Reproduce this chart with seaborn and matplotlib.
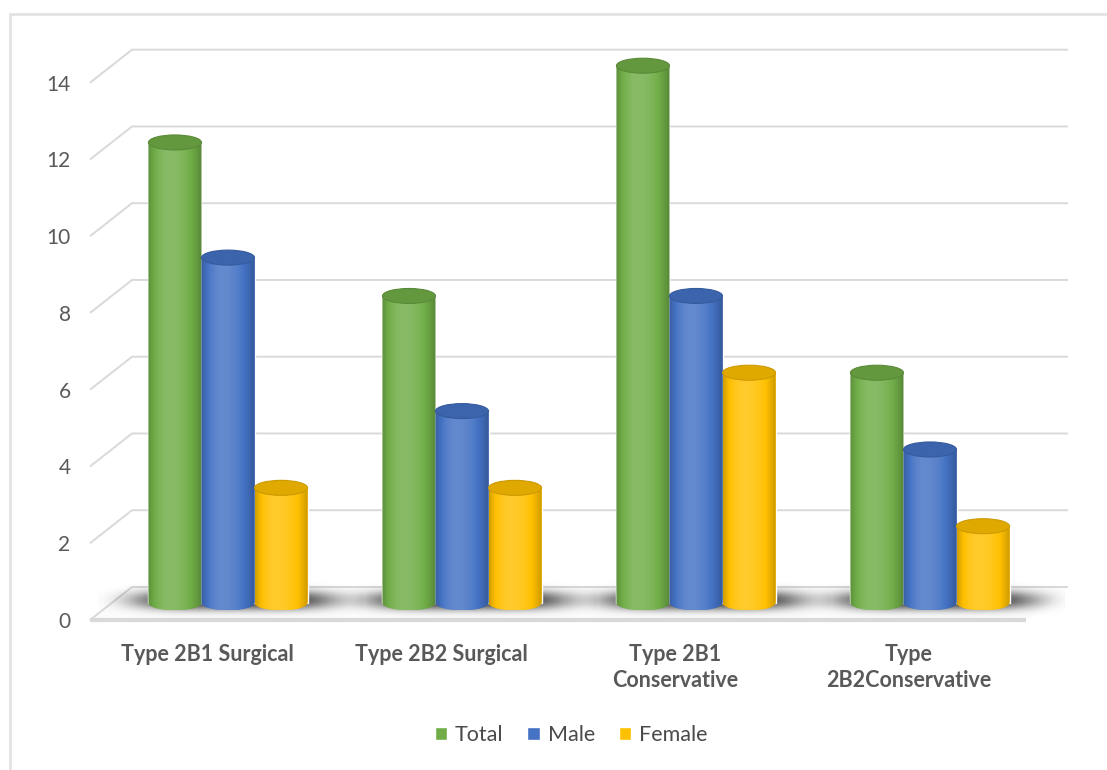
import numpy as np
import pandas as pd
import matplotlib
matplotlib.use("Agg")
import matplotlib.pyplot as plt
import seaborn as sns
from matplotlib.patches import Ellipse, PathPatch, Polygon, Rectangle
from matplotlib.path import Path
from matplotlib.lines import Line2D
from matplotlib.transforms import ScaledTranslation

# ---- data -------------------------------------------------------------
categories = ["Type 2B1 Surgical", "Type 2B2 Surgical",
              "Type 2B1\nConservative", "Type\n2B2Conservative"]
series = ["Total", "Male", "Female"]
total = [12, 8, 14, 6]
male = [9, 5, 8, 4]
female = [3, 3, 6, 2]
colors = ["#70ad47", "#4472c4", "#ffc000"]
yticks = [0, 2, 4, 6, 8, 10, 12, 14]

rows = []
for name, vals in zip(series, [total, male, female]):
    for cat, v in zip(categories, vals):
        rows.append({"category": cat, "series": name, "value": v})
df = pd.DataFrame(rows)

# ---- style ------------------------------------------------------------
sns.set_theme(style="white")
plt.rcParams["font.family"] = ["Lato", "DejaVu Sans"]
TEXT = "#595959"
GRID = "#d9d9d9"

W, H = 1107, 770
fig = plt.figure(figsize=(W / 100, H / 100), dpi=100)
fig.patch.set_facecolor("white")

# axes placement in pixels (left/right, bottom/top measured from the top)
AX_L, AX_R, AX_B, AX_T = 111, 1047, 626, 35
YLIM = (-0.6, 14.8)
ax = fig.add_axes([AX_L / W, 1 - AX_B / H, (AX_R - AX_L) / W, (AX_B - AX_T) / H])

sns.barplot(data=df, x="category", y="value", hue="series",
            order=categories, hue_order=series, palette=colors,
            width=0.68, saturation=1, errorbar=None, ax=ax, zorder=3)
bars = [p for p in ax.patches if isinstance(p, Rectangle) and p.get_height() > 0]

XLIM = (-0.5, len(categories) - 0.5)
px_x = (AX_R - AX_L) / (XLIM[1] - XLIM[0])
px_y = (AX_B - AX_T) / (YLIM[1] - YLIM[0])

# depth of the pseudo-3D box (pixels)
DX, DYB, DYF = 21, 16, 17
ddx, dyb, dyf = DX / px_x, DYB / px_y, DYF / px_y

# ---- walls and floor --------------------------------------------------
floor = Polygon([(XLIM[0] - ddx, -dyf), (XLIM[1] - ddx, -dyf),
                 (XLIM[1] + ddx, dyb), (XLIM[0] + ddx, dyb)],
                closed=True, facecolor="#fcfcfc", edgecolor="none",
                zorder=0.5, clip_on=False)
ax.add_patch(floor)
for v in yticks:
    ax.plot([XLIM[0] - ddx, XLIM[0] + ddx, XLIM[1] + ddx],
            [v - dyf, v + dyb, v + dyb],
            color=GRID, lw=1.4, clip_on=False, zorder=1,
            solid_capstyle="butt")
ax.plot([XLIM[0] - ddx, XLIM[1] - ddx], [-dyf, -dyf], color=GRID, lw=3,
        clip_on=False, zorder=1, solid_capstyle="butt")


def shade(rgb, t):
    u = t - 0.4
    k = np.where(u < 0, 0.17 - 2.2 * u ** 2, 0.17 - 1.1 * u ** 2)
    rgb = np.asarray(rgb)[None, :]
    k = k[:, None]
    out = np.where(k > 0, rgb + (1 - rgb) * k, rgb * (1 + k))
    return np.clip(out, 0, 1)


# ---- soft floor shadows under each group ---------------------------------
n_cat = len(categories)
for i in range(n_cat):
    grp = [p for p in bars if abs(p.get_x() + p.get_width() / 2 - i) < 0.5]
    gx0 = min(p.get_x() for p in grp)
    gx1 = max(p.get_x() + p.get_width() for p in grp)
    L, R = gx0 - 50 / px_x, gx1 + 55 / px_x
    ylo, yhi = -22 / px_y, 26 / px_y
    xs = np.linspace(L, R, 400)
    ys = np.linspace(ylo, yhi, 120)
    X, Y = np.meshgrid(xs * px_x, ys * px_y)
    cx = (gx0 + gx1) / 2 * px_x + 6
    half = (gx1 - gx0) / 2 * px_x + 28
    d = (np.abs(X - cx) / half) ** 4 + ((Y - 3) / 11) ** 2
    alpha = 0.92 * np.exp(-1.3 * d ** 1.2)
    img = np.zeros(alpha.shape + (4,))
    img[..., :3] = 0.18
    img[..., 3] = alpha
    ax.imshow(img, extent=(L, R, ylo, yhi), origin="lower", aspect="auto",
              interpolation="bilinear", zorder=2, clip_on=False)

# ---- cylinders ---------------------------------------------------------
b = 7.5 / px_y
for p in bars:
    x0, w, h = p.get_x(), p.get_width(), p.get_height()
    xc = x0 + w / 2
    base = np.array(p.get_facecolor()[:3])
    t = np.linspace(0, 1, 200)
    grad = shade(base, t)[None, :, :].repeat(2, axis=0)
    im = ax.imshow(grad, extent=(x0, x0 + w, -b, h), origin="lower",
                   aspect="auto", interpolation="bilinear", zorder=4)
    th = np.linspace(np.pi, 2 * np.pi, 60)
    verts = [(x0, h), (x0, 0)] + [(xc + w / 2 * np.cos(a), b * np.sin(a)) for a in th] \
        + [(x0 + w, h), (x0, h)]
    codes = [Path.MOVETO] + [Path.LINETO] * (len(verts) - 2) + [Path.CLOSEPOLY]
    clip = PathPatch(Path(verts, codes), transform=ax.transData,
                     facecolor="none", edgecolor="none")
    ax.add_patch(clip)
    im.set_clip_path(clip)
    ax.add_patch(Ellipse((xc, h), w, 2 * b, facecolor=base * 0.88,
                         edgecolor=base * 0.8, lw=0.8, zorder=5))

ax.set_xlim(XLIM)
ax.set_ylim(YLIM)
ax.set_yticks(yticks)
ax.set_xlabel("")
ax.set_ylabel("")
ax.set_facecolor("none")
for s in ax.spines.values():
    s.set_visible(False)
ax.grid(False)

ax.tick_params(axis="y", length=0, pad=14, labelsize=15, labelcolor=TEXT)
ax.tick_params(axis="x", length=0, pad=13, labelsize=15.5, labelcolor=TEXT)

# ---- legend ------------------------------------------------------------
sns.move_legend(ax, "center", bbox_to_anchor=(571 / W, 1 - 735 / H),
                bbox_transform=fig.transFigure, ncol=3, frameon=False,
                title=None, fontsize=15.5, labelcolor="#4a4a4a",
                handlelength=0.6, handleheight=0.6, handletextpad=0.35,
                columnspacing=1.1)

# ---- chart frame -------------------------------------------------------
fig.add_artist(Line2D([10 / W, 10 / W], [0, 1 - 14 / H], transform=fig.transFigure,
                      color="#e3e3e3", lw=2))
fig.add_artist(Line2D([10 / W, 1], [1 - 14 / H, 1 - 14 / H], transform=fig.transFigure,
                      color="#e3e3e3", lw=2))

# tick labels sit on the front edge of the box
off_y = ScaledTranslation(-DX / 100, -DYF / 100, fig.dpi_scale_trans)
for lab in ax.get_yticklabels():
    lab.set_transform(lab.get_transform() + off_y)
off_x = ScaledTranslation(-DX / 100, 0, fig.dpi_scale_trans)
for lab in ax.get_xticklabels():
    lab.set_fontweight("bold")
    lab.set_linespacing(1.3)
    lab.set_transform(lab.get_transform() + off_x)

fig.savefig("out.png", dpi=100)
